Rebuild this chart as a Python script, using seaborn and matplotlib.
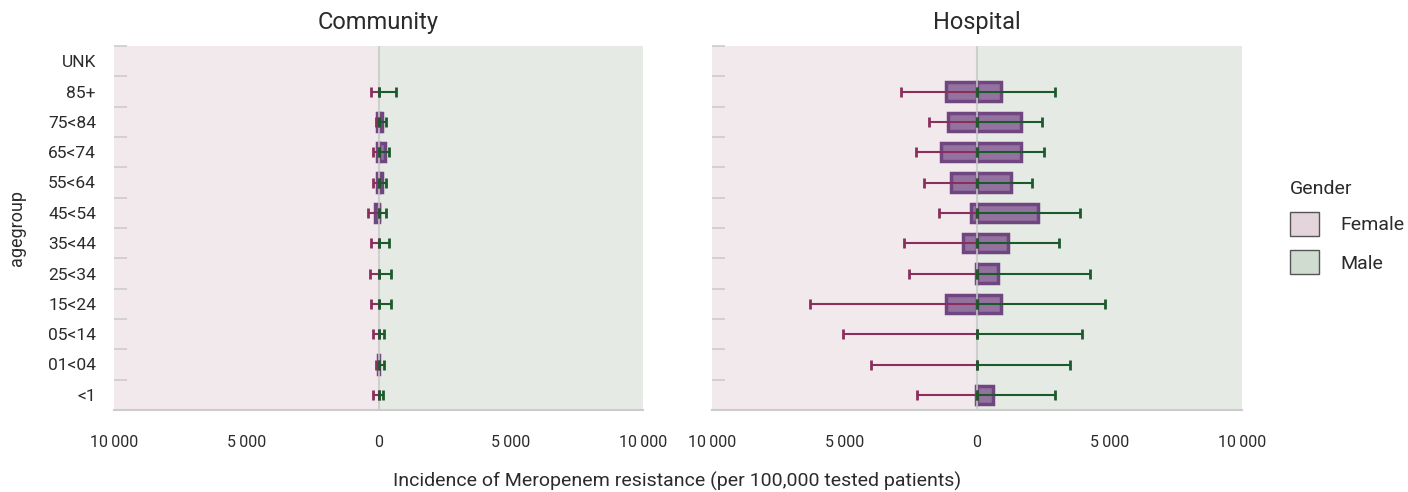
import numpy as np
import pandas as pd
import matplotlib
matplotlib.use('Agg')
import matplotlib.pyplot as plt
import seaborn as sns
from matplotlib.patches import Patch
from matplotlib.ticker import FuncFormatter, FixedLocator

sns.set_style('white')
plt.rcParams['font.family'] = ['Roboto', 'DejaVu Sans']

# Data (values per 100,000 tested patients), top row first
ages = ['UNK', '85+', '75<84', '65<74', '55<64', '45<54', '35<44',
        '25<34', '15<24', '05<14', '01<04', '<1']

comm_female = [np.nan, 0, 50, 38, 38, 139, 0, 0, 0, 0, 30, 0]
comm_male = [np.nan, 0, 150, 227, 150, 25, 0, 0, 0, 0, 0, 0]
comm_female_hi = [np.nan, 265, 76, 200, 200, 390, 290, 315, 290, 200, 76, 200]
comm_male_hi = [np.nan, 668, 290, 403, 290, 290, 403, 479, 479, 214, 214, 176]

hosp_female = [np.nan, 1186, 1078, 1361, 970, 216, 512, 30, 1186, 0, 0, 30]
hosp_male = [np.nan, 890, 1645, 1645, 1267, 2305, 1173, 782, 890, 0, 0, 593]
hosp_female_hi = [np.nan, 2858, 1820, 2292, 1995, 1429, 2750, 2561, 6295, 5055, 3990, 2265]
hosp_male_hi = [np.nan, 2952, 2467, 2534, 2089, 3896, 3100, 4273, 4839, 3963, 3518, 2952]

# Colors
pink_bg = '#f2e9ed'
green_bg = '#e5ebe4'
bar_fill = '#94729f'
bar_edge = '#704680'
female_err = '#8a2f5b'
male_err = '#1b5a2d'
grey = '#cccccc'
text_col = '#2b2b2b'

fig = plt.figure(figsize=(14.08, 4.92), dpi=100)
ax1 = fig.add_axes([114/1408, 82/492, 529/1408, 364/492])
ax2 = fig.add_axes([712/1408, 82/492, 530/1408, 364/492])

panels = [
    (ax1, 'Community', comm_female, comm_male, comm_female_hi, comm_male_hi),
    (ax2, 'Hospital', hosp_female, hosp_male, hosp_female_hi, hosp_male_hi),
]

fmt = FuncFormatter(lambda v, p: f'{abs(int(v)):,}'.replace(',', '\u2009'))

for ax, title, fem, mal, fem_hi, mal_hi in panels:
    df = pd.DataFrame({
        'agegroup': ages * 2,
        'gender': ['Female'] * len(ages) + ['Male'] * len(ages),
        'value': [-v for v in fem] + list(mal),
    })
    df = df.dropna()
    df = df[df['value'] != 0]
    ax.axvspan(-10000, 0, color=pink_bg, zorder=0, lw=0)
    ax.axvspan(0, 10000, color=green_bg, zorder=0, lw=0)
    ax.axvline(0, color='#c8c8c8', lw=1.5, alpha=0.8, zorder=2.5)

    sns.barplot(data=df, x='value', y='agegroup', hue='gender',
                order=ages, dodge=False, width=0.6, errorbar=None,
                palette={'Female': bar_fill, 'Male': bar_fill}, saturation=1,
                edgecolor=bar_edge, linewidth=2.5, legend=False,
                zorder=2, ax=ax)

    pos = np.arange(len(ages))
    fh = np.array(fem_hi, dtype=float)
    mh = np.array(mal_hi, dtype=float)
    ax.errorbar(-fh / 2, pos, xerr=fh / 2, fmt='none', ecolor=female_err,
                elinewidth=1.5, capsize=3.6, capthick=2, zorder=3)
    ax.errorbar(mh / 2, pos, xerr=mh / 2, fmt='none', ecolor=male_err,
                elinewidth=1.5, capsize=3.6, capthick=2, zorder=3)

    ax.set_xlim(-10000, 10000)
    ax.set_ylim(len(ages) - 0.5, -0.5)
    ax.set_xticks([-10000, -5000, 0, 5000, 10000])
    ax.xaxis.set_major_formatter(fmt)
    ax.tick_params(axis='x', direction='out', length=10, width=1,
                   color=grey, labelsize=11.5, pad=8, labelcolor=text_col)
    ax.yaxis.set_minor_locator(FixedLocator(np.arange(-0.5, len(ages) - 1, 1)))
    ax.tick_params(axis='y', which='minor', direction='in', length=9,
                   width=1.2, color=grey, left=True)
    ax.tick_params(axis='y', which='major', length=0, pad=13,
                   labelsize=12.5, labelcolor=text_col)
    for s in ['top', 'right', 'left']:
        ax.spines[s].set_visible(False)
    ax.spines['bottom'].set_color(grey)
    ax.spines['bottom'].set_linewidth(1.5)
    ax.set_xlabel('')
    ax.set_title(title, fontsize=17, color=text_col, pad=12)

ax1.set_ylabel('agegroup', fontsize=13, color=text_col, labelpad=16)
ax2.set_ylabel('')
ax2.set_yticklabels([])

fig.text(677/1408, 1 - 481/492, 'Incidence of Meropenem resistance (per 100,000 tested patients)',
         ha='center', va='center', fontsize=14, color=text_col)

handles = [Patch(facecolor='#e4d5dc', edgecolor='#555555', label='Female'),
           Patch(facecolor='#d1dcd1', edgecolor='#555555', label='Male')]
leg = fig.legend(handles=handles, title='Gender', loc='upper left',
                 bbox_to_anchor=(1272/1408, 1 - 162/492), frameon=False,
                 fontsize=14, title_fontsize=14, handlelength=1.5,
                 handleheight=1.5, handletextpad=1.1, labelspacing=0.75)
for t in leg.get_texts():
    t.set_color(text_col)
leg.get_title().set_color(text_col)
leg._legend_box.align = 'left'

fig.savefig('out.png', dpi=100)
